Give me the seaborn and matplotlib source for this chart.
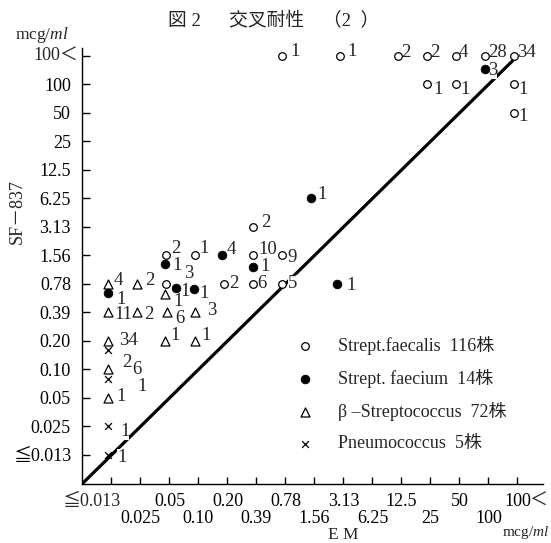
import numpy as np
import pandas as pd
import matplotlib
matplotlib.use("Agg")
import matplotlib.pyplot as plt
import seaborn as sns

sns.set_theme(style="white")
FAM = ["Liberation Serif", "Noto Sans CJK JP", "DejaVu Sans"]
plt.rcParams["font.family"] = FAM
plt.rcParams["mathtext.fontset"] = "custom"
plt.rcParams["mathtext.rm"] = "Liberation Serif"
plt.rcParams["mathtext.it"] = "Liberation Serif:italic"

# ---------------- data ----------------
# MIC categories (mcg/ml), common to both axes
mic_levels = ["0.013", "0.025", "0.05", "0.10", "0.20", "0.39", "0.78", "1.56",
              "3.13", "6.25", "12.5", "25", "50", "100", "100<"]
tick_text = ["≦0.013", "0.025", "0.05", "0.10", "0.20", "0.39", "0.78", "1.56",
             "3.13", "6.25", "12.5", "25", "50", "100", "100＜"]

# Strept. faecalis (open circles): EM MIC, SF-837 MIC, number of strains
fs_em = ["0.78", "3.13", "12.5", "25", "50", "100", "100<", "25", "50", "100<", "100<",
         "0.05", "0.10", "0.39", "0.78", "0.39", "0.05", "0.20", "0.39", "0.78"]
fs_sf = ["100<", "100<", "100<", "100<", "100<", "100<", "100<", "100", "100", "100", "50",
         "1.56", "1.56", "1.56", "1.56", "3.13", "0.78", "0.78", "0.78", "0.78"]
fs_n = [1, 1, 2, 2, 4, 28, 34, 1, 1, 1, 1, 2, 1, 10, 9, 2, 3, 2, 6, 5]

# Strept. faecium (filled circles)
fm_em = ["100", "1.56", "0.20", "0.39", "3.13", "0.013", "0.05", "0.05", "0.10"]
fm_sf = ["100", "6.25", "1.56", "1.56", "0.78", "0.78", "1.56", "0.78", "0.78"]
fm_n = [3, 1, 4, 1, 1, 1, 1, 1, 1]

# beta-Streptococcus (open triangles)
bs_em = ["0.013", "0.025", "0.05", "0.013", "0.025", "0.05", "0.10", "0.013", "0.05",
         "0.10", "0.013", "0.013"]
bs_sf = ["0.78", "0.78", "0.78", "0.39", "0.39", "0.39", "0.39", "0.20", "0.20", "0.20",
         "0.10", "0.05"]
bs_n = [4, 2, 1, 11, 2, 6, 3, 34, 1, 1, 6, 1]

# Pneumococcus (crosses)
pn_em = ["0.013", "0.013", "0.013", "0.013"]
pn_sf = ["0.20", "0.10", "0.025", "0.013"]
pn_n = [2, 1, 1, 1]

# ---------------- placement nudges (as drawn in the original) ----------------
fs_dx = [0] * 20
fs_dy = [0] * 20
fs_lx = [8, 7, 3, 3, 3, 3, 3, 6, 4, 4, 4, 5, 4, 5, 5, 8, 18, 5, 4, 6]
fs_ly = [4, 4, 3, 3, 3, 3, 3, -5, -5, -5, -4, 7, 7, 6, -2, 4, 10, 0, 0, 0]

fm_dx = [0, 0, -0.07, 0, -0.1, 0, -0.03, 0.34, -0.03]
fm_dy = [0.55, 0, 0, -0.4, 0, -0.32, -0.3, -0.14, -0.18]
fm_lx = [3, 6, 5, 7, 9, 8, 7, 5, 5]
fm_ly = [-2, 4, 6, 0, -2, -6, -1, -4, -4]

bs_dx = [0, 0, -0.03, 0, 0, 0.03, 0, 0, -0.03, 0, 0, 0]
bs_dy = [0, 0, -0.35, 0, 0, 0, 0, 0, 0, 0, 0, 0]
bs_lx = [6, 8, 8, 6, 7, 8, 12, 11, 5, 6, 24, 8]
bs_ly = [3, 3, -8, -2, -2, -6, 2, 0, 5, 5, 0, 1]

pn_dx = [0, 0, 0, 0]
pn_dy = [-0.32, -0.33, 0, 0]
pn_lx = [14, 29, 12, 9]
pn_ly = [-12, -8, -5, -3]

species = {
    "faecalis": (fs_em, fs_sf, fs_n, fs_dx, fs_dy, fs_lx, fs_ly),
    "faecium": (fm_em, fm_sf, fm_n, fm_dx, fm_dy, fm_lx, fm_ly),
    "beta": (bs_em, bs_sf, bs_n, bs_dx, bs_dy, bs_lx, bs_ly),
    "pneumo": (pn_em, pn_sf, pn_n, pn_dx, pn_dy, pn_lx, pn_ly),
}
rows = []
for sp, (em, sf, n, dx, dy, lx, ly) in species.items():
    for i in range(len(em)):
        rows.append(dict(species=sp, em=em[i], sf=sf[i], n=n[i],
                         x=mic_levels.index(em[i]) + dx[i],
                         y=mic_levels.index(sf[i]) + dy[i],
                         lx=lx[i], ly=ly[i]))
df = pd.DataFrame(rows)

legend_labels = {
    "faecalis": f"Strept.faecalis  {sum(fs_n)}株",
    "faecium": f"Strept. faecium  {sum(fm_n)}株",
    "beta": f"β –Streptococcus  {sum(bs_n)}株",
    "pneumo": f"Pneumococcus  {sum(pn_n)}株",
}
styles = {
    "faecalis": dict(marker="o", s=30, facecolor="white", edgecolor="black", linewidth=0.9),
    "faecium": dict(marker="o", s=40, facecolor="black", edgecolor="black", linewidth=0.5),
    "beta": dict(marker="^", s=42, facecolor="white", edgecolor="black", linewidth=0.9),
    "pneumo": dict(marker="x", s=24, color="black", linewidth=0.9),
}

# ---------------- figure ----------------
W, H = 551, 543
fig = plt.figure(figsize=(W / 100, H / 100), dpi=100)
fig.patch.set_facecolor("white")
ax = fig.add_axes([82 / W, 1 - 484 / H, (543 - 82) / W, (484 - 48) / H])
ax2 = ax.twiny()
ax.set_zorder(2)
ax2.set_zorder(1)
ax.patch.set_visible(False)

ax.set_xlim(-0.897, 15.0)
ax2.set_xlim(-1.017, 14.88)
ax.set_ylim(-1.018, 14.28)

# equality line (EM = SF-837)
ax2.plot([-1.02, 13.85], [-1.02, 13.85], color="black", lw=2.3, solid_capstyle="butt")

for sp in species:
    sub = df[df.species == sp]
    sns.scatterplot(data=sub, x="x", y="y", ax=ax, label=legend_labels[sp], zorder=5,
                    legend=True, **styles[sp])
    for _, r in sub.iterrows():
        ax.annotate(str(r.n), xy=(r.x, r.y), xytext=(r.lx, r.ly), textcoords="offset pixels",
                    ha="left", va="center", fontsize=13.5, zorder=3,
                    bbox=dict(boxstyle="square,pad=0.0", fc="white", ec="none"))

# axes styling
for s in ["top", "right"]:
    ax.spines[s].set_visible(False)
for s in ["left", "bottom"]:
    ax.spines[s].set_color("black")
    ax.spines[s].set_linewidth(1.0)
for s in ax2.spines.values():
    s.set_visible(False)

ax.set_xticks([])
ax.set_xlabel("")
ax.set_ylabel("")
ax.set_yticks(range(len(mic_levels)))
ax.set_yticklabels(tick_text[:-1] + [""])
ax.tick_params(axis="y", direction="in", length=6, width=1, pad=8, labelsize=13,
               left=True, colors="black")

major = list(range(0, len(mic_levels), 2))
minor = list(range(1, len(mic_levels), 2))
ax2.set_xticks(major)
ax2.set_xticklabels([""] + [tick_text[i] for i in major[1:-1]] + ["100"])
ax2.set_xticks(minor, minor=True)
ax2.set_xticklabels([tick_text[i] for i in minor], minor=True)
ax2.xaxis.set_ticks_position("bottom")
ax2.tick_params(axis="x", which="both", direction="in", length=5, width=1,
                labelsize=13, bottom=True, top=False, labelbottom=True, labeltop=False,
                colors="black")
ax2.tick_params(axis="x", which="major", pad=6.5)
ax2.tick_params(axis="x", which="minor", pad=19)

# labels that hang off their ticks
ax2.annotate("≦0.013", xy=(0, 0), xycoords=ax2.get_xaxis_transform(), xytext=(-20, -9),
             textcoords="offset pixels", ha="center", va="top", fontsize=13,
             annotation_clip=False)
ax2.annotate("＜", xy=(14, 0), xycoords=ax2.get_xaxis_transform(), xytext=(21, -9),
             textcoords="offset pixels", ha="center", va="top", fontsize=13,
             annotation_clip=False)
ax.annotate("100＜", xy=(0, 14), xycoords=ax.get_yaxis_transform(), xytext=(-4, 0),
            textcoords="offset pixels", ha="right", va="center", fontsize=13,
            annotation_clip=False)

# legend
ax.legend(loc="upper left", bbox_to_anchor=(296 / W, 1 - 336 / H),
          bbox_transform=fig.transFigure, frameon=False, handlelength=1.0,
          handletextpad=1.3, labelspacing=0.78, borderpad=0, borderaxespad=0,
          fontsize=13)

# titles and axis names
fig.text(274 / W, 1 - 21 / H, "図 2　  交叉耐性　（2  ）", ha="center", va="center", fontsize=13.5)
fig.text(15 / W, 1 - 35 / H, "mcg/$\\mathit{ml}$", ha="left", va="center", fontsize=12.5)
fig.text(17 / W, 1 - 212 / H, "SF－837", ha="center", va="center", rotation=90, fontsize=13)
fig.text(343 / W, 1 - 535 / H, "E M", ha="center", va="center", fontsize=12.5)
fig.text(502 / W, 1 - 541 / H, "mcg/$\\mathit{ml}$", ha="left", va="bottom", fontsize=11)

fig.savefig("out.png", dpi=100, facecolor="white")
